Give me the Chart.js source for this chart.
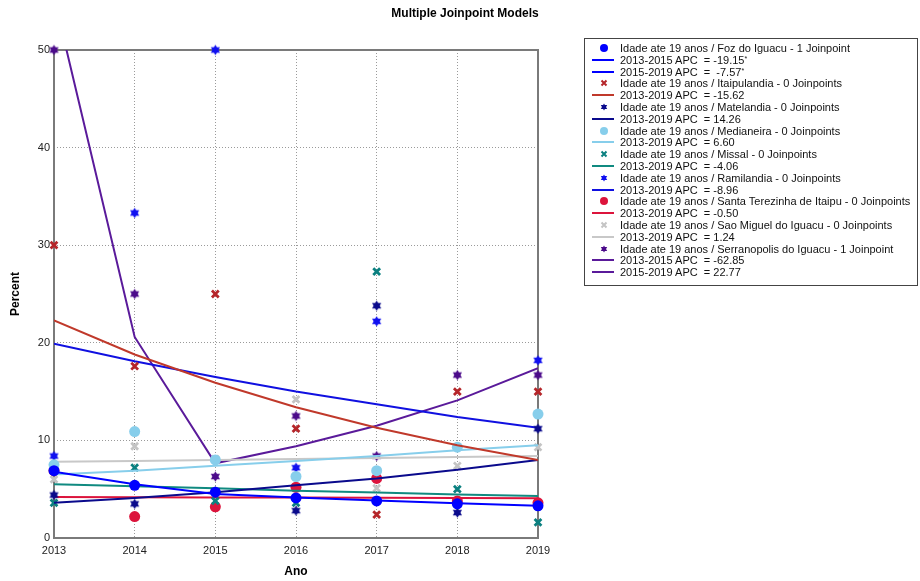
<!DOCTYPE html>
<html>
<head>
<meta charset="utf-8">
<script src="https://cdn.jsdelivr.net/npm/chart.js@4.4.1/dist/chart.umd.min.js"></script>
<style>
    body { margin: 0; background: #fff; font-family: "Liberation Sans", Arial, sans-serif; }
    #wrap { position: relative; width: 920px; height: 581px; }
    #title { position: absolute; left: 0; width: 930px; top: 6px; text-align: center; font-weight: bold; font-size: 12px; color: #000; }
    #legend { position: absolute; left: 584px; top: 38px; width: 332px; height: 246px; border: 1px solid #444; }
    .row { position: absolute; left: 7px; display: flex; align-items: center; height: 12px; line-height: 12px; font-size: 11px; color: #111; white-space: pre; }
    .row svg { width: 24px; height: 12px; margin-right: 4px; flex: none; }
    .row sup { font-size: 7px; line-height: 7px; vertical-align: 3px; }
</style>
</head>
<body>
<div id="wrap">
    <canvas id="chart" width="920" height="581"></canvas>
    <div id="title">Multiple Joinpoint Models</div>
    <div id="legend"></div>
</div>
<script>
// Multiple joinpoint models, age up to 19 years

const years = [2013, 2014, 2015, 2016, 2017, 2018, 2019];

const fozPts = [6.9, 5.4, 4.7, 4.1, 3.8, 3.5, 3.3];
const fozFit = [6.8, 5.5, 4.5, 4.15, 3.85, 3.55, 3.3];
const itaiPts = [30, 17.6, 25, 11.2, 2.4, 15, 15];
const itaiFit = [22.3, 18.8, 15.9, 13.4, 11.3, 9.5, 8.0];
const matePts = [4.4, 3.5, 4.8, 2.8, 23.8, 2.6, 11.2];
const mateFit = [3.6, 4.1, 4.7, 5.4, 6.1, 7.0, 8.0];
const mediPts = [7.5, 10.9, 8.0, 6.3, 6.9, 9.3, 12.7];
const mediFit = [6.5, 6.9, 7.4, 7.9, 8.4, 9.0, 9.5];
const missPts = [3.6, 7.2, 3.8, 3.6, 27.3, 5.0, 1.6];
const missFit = [5.5, 5.3, 5.1, 4.85, 4.65, 4.45, 4.3];
const ramiPts = [8.4, 33.3, 50, 7.2, 22.2, null, 18.2];
const ramiFit = [19.9, 18.1, 16.5, 15.0, 13.7, 12.4, 11.3];
const santPts = [6.9, 2.2, 3.2, 5.2, 6.1, 3.8, 3.6];
const santFit = [4.2, 4.18, 4.16, 4.14, 4.12, 4.1, 4.08];
const saoPts = [6.0, 9.4, 8.1, 14.2, 5.1, 7.4, 9.3];
const saoFit = [7.8, 7.9, 8.0, 8.1, 8.2, 8.3, 8.4];
const serrPts = [50, 25, 6.3, 12.5, 8.4, 16.7, 16.7];
const serrFit = [55.4, 20.6, 7.65, 9.4, 11.5, 14.1, 17.4];

const regions = ["Foz do Iguacu", "Itaipulandia", "Matelandia", "Medianeira", "Missal",
    "Ramilandia", "Santa Terezinha de Itaipu", "Sao Miguel do Iguacu", "Serranopolis do Iguacu"];
const joinpoints = [1, 0, 0, 0, 0, 0, 0, 0, 1];
const apcLabels = [
    ["2013-2015 APC  = -19.15*", "2015-2019 APC  =  -7.57*"],
    ["2013-2019 APC  = -15.62"],
    ["2013-2019 APC  = 14.26"],
    ["2013-2019 APC  = 6.60"],
    ["2013-2019 APC  = -4.06"],
    ["2013-2019 APC  = -8.96"],
    ["2013-2019 APC  = -0.50"],
    ["2013-2019 APC  = 1.24"],
    ["2013-2015 APC  = -62.85", "2015-2019 APC  = 22.77"]
];
const colors = ["#0000ff", "#b5262a", "#0a0a8c", "#87ceeb", "#0b8080", "#1010f0", "#dc143c", "#c4c4c4", "#4b0a8a"];
const lineColors = ["#0000ff", "#c0392b", "#0a0a8c", "#87ceeb", "#108a80", "#1010e0", "#dc143c", "#c8c8c8", "#5a1a9a"];
const markers = ["circle", "cross", "star", "circle", "cross", "star", "circle", "cross", "star"];
const points = [fozPts, itaiPts, matePts, mediPts, missPts, ramiPts, santPts, saoPts, serrPts];
const fits = [fozFit, itaiFit, mateFit, mediFit, missFit, ramiFit, santFit, saoFit, serrFit];

function starImage(color, r) {
    const c = document.createElement("canvas");
    const s = Math.ceil(r * 2 + 2);
    c.width = s; c.height = s;
    const g = c.getContext("2d");
    g.fillStyle = color;
    [-90, 90].forEach(start => {
        g.beginPath();
        for (let k = 0; k < 3; k++) {
            const a = (start + 120 * k) * Math.PI / 180;
            g.lineTo(s / 2 + r * Math.cos(a), s / 2 + r * Math.sin(a));
        }
        g.closePath();
        g.fill();
    });
    return c;
}

function toXY(arr) {
    return years.map((x, i) => ({ x: x, y: arr[i] })).filter(p => p.y !== null);
}

const datasets = [];
regions.forEach((name, i) => {
    const pt = {
        label: name,
        data: toXY(points[i]),
        showLine: false,
        clip: false,
        backgroundColor: colors[i],
        borderColor: colors[i]
    };
    if (markers[i] == "circle") {
        pt.pointStyle = "circle"; pt.pointRadius = 5.5; pt.borderWidth = 0;
    } else if (markers[i] == "cross") {
        pt.pointStyle = "crossRot"; pt.pointRadius = 4.8; pt.borderWidth = 2.8;
    } else {
        pt.pointStyle = starImage(colors[i], 5.3); pt.pointRadius = 5;
    }
    datasets.push(pt);
    datasets.push({
        label: name + " fit",
        data: toXY(fits[i]),
        showLine: true,
        pointRadius: 0,
        borderColor: lineColors[i],
        borderWidth: 2,
        tension: 0
    });
});

// frame around the plot area
const framePlugin = {
    id: "frame",
    beforeDatasetsDraw(chart) {
        const a = chart.chartArea;
        const ctx = chart.ctx;
        ctx.save();
        ctx.strokeStyle = "#7a7a7a";
        ctx.lineWidth = 2;
        ctx.strokeRect(a.left, a.top, a.right - a.left, a.bottom - a.top);
        ctx.restore();
    }
};

const gridStyle = { color: "#9a9a9a", lineWidth: 1, drawTicks: false };

new Chart(document.getElementById("chart"), {
    type: "scatter",
    data: { datasets: datasets },
    options: {
        responsive: false,
        animation: false,
        layout: { padding: { left: 0, top: 50, right: 382, bottom: 0 } },
        plugins: { legend: { display: false }, tooltip: { enabled: false } },
        scales: {
            x: {
                type: "linear", min: 2013, max: 2019,
                grid: gridStyle,
                border: { display: false, dash: [1, 2] },
                ticks: { stepSize: 1, padding: 6, color: "#222", font: { family: "Liberation Sans", size: 11 }, callback: v => String(v) },
                title: { display: true, text: "Ano", color: "#000", font: { family: "Liberation Sans", size: 12, weight: "bold" }, padding: { top: 0, bottom: 2 } },
                afterFit(scale) { scale.height = 43; }
            },
            y: {
                min: 0, max: 50,
                grid: gridStyle,
                border: { display: false, dash: [1, 2] },
                ticks: { stepSize: 10, padding: 4, color: "#222", font: { family: "Liberation Sans", size: 11 } },
                title: { display: true, text: "Percent", color: "#000", font: { family: "Liberation Sans", size: 12, weight: "bold" }, padding: { top: 8, bottom: 0 } },
                afterFit(scale) { scale.width = 54; }
            }
        }
    },
    plugins: [framePlugin]
});

// legend
function symbolSvg(kind, color) {
    if (kind == "line") return `<svg><line x1="0" y1="6" x2="22" y2="6" stroke="${color}" stroke-width="2"/></svg>`;
    if (kind == "circle") return `<svg><circle cx="12" cy="6" r="4" fill="${color}"/></svg>`;
    if (kind == "cross") return `<svg><path d="M9.5 3.5 L14.5 8.5 M14.5 3.5 L9.5 8.5" stroke="${color}" stroke-width="2"/></svg>`;
    return `<svg><polygon points="12,2.5 15.2,8 8.8,8" fill="${color}"/><polygon points="12,9.5 15.2,4 8.8,4" fill="${color}"/></svg>`;
}

const legend = document.getElementById("legend");
let html = "";
let row = 0;
function addRow(svg, text) {
    const top = 3 + row * 11.8;
    html += `<div class="row" style="top:${top}px">${svg}<span>${text}</span></div>`;
    row++;
}
regions.forEach((name, i) => {
    const jp = joinpoints[i] == 1 ? "1 Joinpoint" : joinpoints[i] + " Joinpoints";
    addRow(symbolSvg(markers[i], colors[i]), `Idade ate 19 anos / ${name} - ${jp}`);
    apcLabels[i].forEach(t => {
        const txt = t.endsWith("*") ? t.slice(0, -1) + "<sup>*</sup>" : t;
        addRow(symbolSvg("line", lineColors[i]), txt);
    });
});
legend.innerHTML = html;
</script>
</body>
</html>
